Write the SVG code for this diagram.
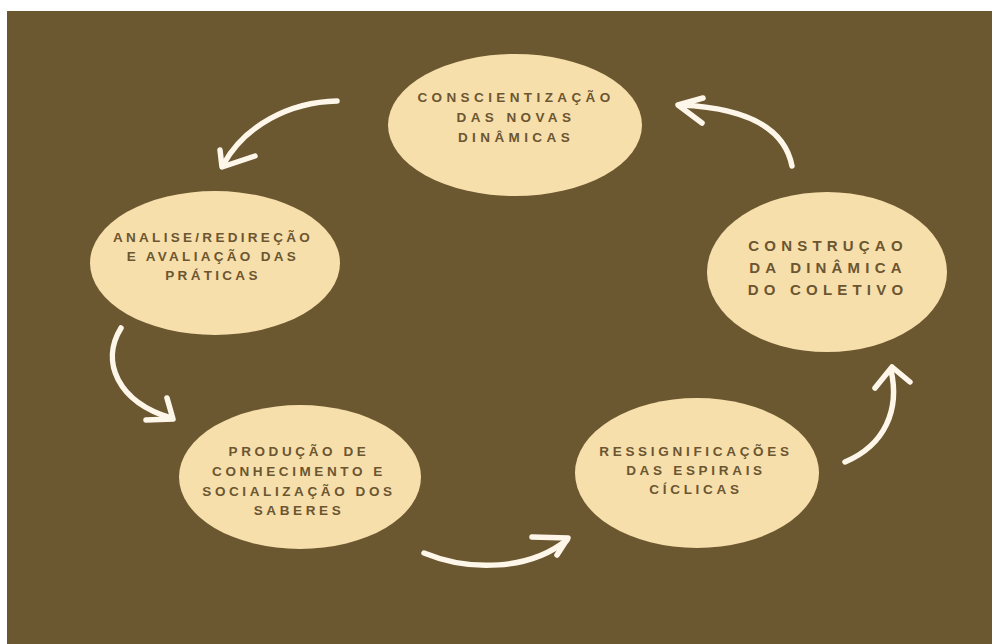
<svg xmlns="http://www.w3.org/2000/svg" width="992" height="644" viewBox="0 0 992 644">
  <style>
    .node ellipse { fill: #f7dfac; }
    .node text { font-family: "Liberation Sans", Arial, sans-serif; font-weight: bold; fill: #6b5631; text-anchor: middle; font-size: 13.5px; letter-spacing: 3.6px; }
    .node text.big { font-size: 15px; letter-spacing: 5.2px; }
    .node text.wide { letter-spacing: 4.4px; }
    .arrow path { fill: none; stroke: #fdf6e9; stroke-width: 5.5; stroke-linecap: round; stroke-linejoin: round; }
  </style>
  <rect x="0" y="0" width="992" height="644" fill="#ffffff"/>
  <rect x="7" y="11" width="985" height="633" fill="#6b5730"/>

  <g id="node-conscientizacao" class="node">
    <ellipse cx="515" cy="125" rx="127" ry="71"/>
    <text class="wide" x="516" y="102">CONSCIENTIZAÇÃO</text>
    <text class="wide" x="516" y="122">DAS NOVAS</text>
    <text class="wide" x="516" y="142">DINÂMICAS</text>
  </g>

  <g id="node-analise" class="node">
    <ellipse cx="215" cy="263" rx="125" ry="72"/>
    <text x="213" y="242" style="letter-spacing:3.3px">ANALISE/REDIREÇÃO</text>
    <text x="213" y="261" style="letter-spacing:3.3px">E AVALIAÇÃO DAS</text>
    <text x="213" y="280" style="letter-spacing:3.3px">PRÁTICAS</text>
  </g>

  <g id="node-construcao" class="node">
    <ellipse cx="827" cy="272" rx="120" ry="80"/>
    <text class="big" x="828" y="251">CONSTRUÇAO</text>
    <text class="big" x="828" y="273">DA DINÂMICA</text>
    <text class="big" x="828" y="295">DO COLETIVO</text>
  </g>

  <g id="node-producao" class="node">
    <ellipse cx="300" cy="477" rx="121" ry="72"/>
    <text x="299" y="456">PRODUÇÃO DE</text>
    <text x="299" y="476">CONHECIMENTO E</text>
    <text x="299" y="496">SOCIALIZAÇÃO DOS</text>
    <text x="299" y="515">SABERES</text>
  </g>

  <g id="node-ressignificacoes" class="node">
    <ellipse cx="697" cy="473" rx="122" ry="75"/>
    <text x="696" y="456" style="letter-spacing:3.7px">RESSIGNIFICAÇÕES</text>
    <text x="696" y="475" style="letter-spacing:3.7px">DAS ESPIRAIS</text>
    <text x="696" y="494" style="letter-spacing:3.7px">CÍCLICAS</text>
  </g>

  <g id="connectors" class="arrow">
    <path d="M337,101 C290,102 245,125 223,165"/>
    <path d="M220,150 L222,167 L255,156"/>

    <path d="M792,166 C785,130 750,108 680,105"/>
    <path d="M703,98 L678,105 L702,123"/>

    <path d="M121,328 C100,362 118,402 171,418"/>
    <path d="M167,398 L173,419 L146,420"/>

    <path d="M424,553 C470,572 530,570 567,540"/>
    <path d="M532,537 L568,538 L557,555"/>

    <path d="M845,462 C885,445 900,410 891,370"/>
    <path d="M875,388 L892,367 L910,382"/>
  </g>
</svg>
